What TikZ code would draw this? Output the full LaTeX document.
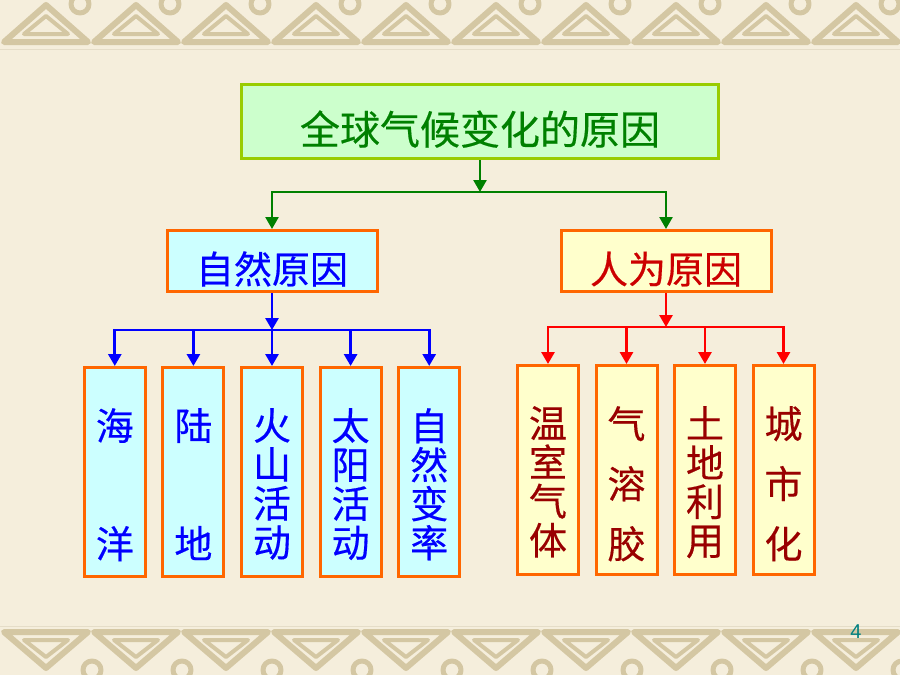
\documentclass[tikz,border=0pt]{standalone}
\usepackage{fontspec}
\setmainfont{Liberation Sans}
\newfontfamily\cjk{Noto Sans CJK SC}[FakeBold=0.4]
\usetikzlibrary{arrows.meta, positioning}
\definecolor{paper}{HTML}{F5EEDC}
\definecolor{knotcol}{HTML}{D4C7A3}
\definecolor{rootfill}{HTML}{CCFFCC}
\definecolor{rootedge}{HTML}{99CC00}
\definecolor{rootgreen}{HTML}{008000}
\definecolor{boxorange}{HTML}{FF6600}
\definecolor{coolfill}{HTML}{CCFFFF}
\definecolor{warmfill}{HTML}{FFFFCC}
\definecolor{humanred}{HTML}{CC0000}
\definecolor{factorred}{HTML}{990000}
\definecolor{pageteal}{HTML}{008080}
\tikzset{
  causes/.style={
	x=1pt, y=-1pt, % pixel coordinates, y pointing down
	every node/.style={inner sep=0pt},
	node distance=78.6pt, % spacing of the factor boxes
  },
  knot/.style={draw=knotcol, line width=5pt, line join=round},
  rootbox/.style={draw=rootedge, line width=3.5pt, fill=rootfill, minimum width=477pt, minimum height=74pt,
	text height=51pt, text depth=5pt, text=rootgreen, font=\cjk\fontsize{40}{40}\selectfont},
  causebox/.style={draw=boxorange, line width=3pt, minimum width=210pt, minimum height=61pt,
	text height=50pt, text depth=5pt, font=\cjk\fontsize{38}{38}\selectfont},
  factorbox/.style={draw=boxorange, line width=3pt, minimum width=61pt, minimum height=209pt},
  factortext/.style={align=center, anchor=north, font=\cjk\fontsize{38}{39}\selectfont},
  feed/.style={-{Triangle[width=13pt,length=12pt]}},
  greenline/.style={draw=rootgreen, line width=2.5pt},
  blueline/.style={draw=blue, line width=2.8pt},
  redline/.style={draw=red, line width=2.8pt},
}
\begin{document}
\begin{tikzpicture}[causes]
\useasboundingbox (0,0) rectangle (900,675);
\fill[paper] (0,0) rectangle (900,675);
% border bands
\begin{scope}
\clip (0,0) rectangle (900,48);
\foreach \i in {0,...,9} {
  \draw[knot] (\i*90+80,4) circle (9);
  \draw[knot, line width=6pt] (\i*90+4,42) -- (\i*90+46,5) -- (\i*90+88,42) -- cycle;
  \draw[knot, line width=4pt] (\i*90+24,34) -- (\i*90+46,16) -- (\i*90+68,34) -- cycle;
}
\end{scope}
\begin{scope}
\clip (0,627) rectangle (900,675);
\foreach \i in {0,...,9} {
  \draw[knot] (\i*90+92,670) circle (9);
  \draw[knot, line width=6pt] (\i*90+4,632) -- (\i*90+46,668) -- (\i*90+88,632) -- cycle;
  \draw[knot, line width=4pt] (\i*90+24,640) -- (\i*90+46,657) -- (\i*90+68,640) -- cycle;
}
\end{scope}
\draw[knotcol!60, line width=1pt] (0,49) -- (900,49) (0,626) -- (900,626);

% boxes
\node[rootbox] (root) at (480,121.5) {全球气候变化的原因};
\node[causebox, fill=coolfill, text=blue] (natural) at (272,261) {自然原因};
\node[causebox, fill=warmfill, text=humanred] (human) at (666,261) {人为原因};

\node[factorbox, fill=coolfill] (n1) at (114.8,472) {};
\node[factorbox, fill=coolfill, right of=n1] (n2) {};
\node[factorbox, fill=coolfill, right of=n2] (n3) {};
\node[factorbox, fill=coolfill, right of=n3] (n4) {};
\node[factorbox, fill=coolfill, right of=n4] (n5) {};
\node[factorbox, fill=warmfill] (h1) at (548,470) {};
\node[factorbox, fill=warmfill, right of=h1, node distance=78.5pt] (h2) {};
\node[factorbox, fill=warmfill, right of=h2, node distance=78.5pt] (h3) {};
\node[factorbox, fill=warmfill, right of=h3, node distance=78.5pt] (h4) {};

\node[factortext, text=blue] (n1t) at ([yshift=-42pt]n1.north) {海\\[79pt]洋};
\node[factortext, text=blue] (n2t) at ([yshift=-42pt]n2.north) {陆\\[79pt]地};
\node[factortext, text=blue] (n3t) at ([yshift=-42pt]n3.north) {火\\山\\活\\动};
\node[factortext, text=blue] (n4t) at ([yshift=-42pt]n4.north) {太\\阳\\活\\动};
\node[factortext, text=blue] (n5t) at ([yshift=-42pt]n5.north) {自\\然\\变\\率};
\node[factortext, text=factorred] (h1t) at ([yshift=-42pt]h1.north) {温\\室\\气\\体};
\node[factortext, text=factorred] (h2t) at ([yshift=-42pt]h2.north) {气\\[21pt]溶\\[21pt]胶};
\node[factortext, text=factorred] (h3t) at ([yshift=-42pt]h3.north) {土\\地\\利\\用};
\node[factortext, text=factorred] (h4t) at ([yshift=-42pt]h4.north) {城\\[21pt]市\\[21pt]化};

% connectors
\coordinate (gjoin) at (480,192);
\draw[greenline, feed] (root.south) -- (gjoin);
\draw[greenline, feed] (gjoin) -| (natural.north);
\draw[greenline, feed] (gjoin) -| (human.north);

\coordinate (bjoin) at (272,330);
\draw[blueline, feed] (natural.south) -- (bjoin);
\foreach \f in {n1,n2,n3,n4,n5}
  \draw[blueline, feed] (bjoin) -| (\f.north);

\coordinate (rjoin) at (666,327);
\draw[redline, feed] (human.south) -- (rjoin);
\foreach \f in {h1,h2,h3,h4}
  \draw[redline, feed] (rjoin) -| (\f.north);

\node[text=pageteal, font=\fontsize{20}{20}\selectfont] (page) at (856,632) {4};
\end{tikzpicture}
\end{document}
